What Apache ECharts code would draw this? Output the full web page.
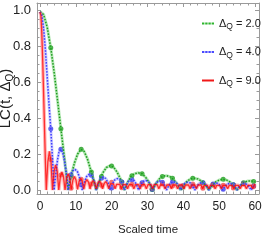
<!DOCTYPE html>
<html><head><meta charset="utf-8">
<script src="https://cdn.jsdelivr.net/npm/echarts@6/dist/echarts.min.js"></script>
<style>html,body{margin:0;padding:0;background:#fff}#c{width:262px;height:240px}</style>
</head><body><div id="c"></div>
<script>
// ---- data (t = scaled time, value = LC) ----
const seriesNames = ['2.0', '4.0', '9.0'];
const xTickLabels = [0, 10, 20, 30, 40, 50, 60];
const yTickLabels = [0, 0.2, 0.4, 0.6, 0.8, 1.0];

const green = [[0,0.99],[1,0.975],[2,0.905],[3,0.79],[4,0.645],[5,0.48],[5.83,0.34],[6.5,0.23],[7.2,0.11],[7.85,0],
[8.7,0.08],[9.6,0.15],[10.5,0.2],[11.4,0.226],[12.3,0.215],[13.2,0.175],[14.1,0.115],[14.9,0.06],[15.7,0],
[16.6,0.05],[17.5,0.095],[18.5,0.125],[19.5,0.135],[20.5,0.128],[21.5,0.1],[22.5,0.06],[23.55,0],
[24.4,0.04],[25.3,0.075],[26.3,0.09],[27.4,0.096],[28.5,0.09],[29.5,0.07],[30.5,0.04],[31.4,0],
[32.3,0.035],[33.3,0.062],[34.3,0.077],[35.3,0.08],[36.4,0.073],[37.4,0.055],[38.4,0.03],[39.25,0],
[40.2,0.03],[41.1,0.05],[42.1,0.062],[43,0.066],[44,0.062],[45,0.05],[46.1,0.03],[47.1,0],
[48,0.025],[49,0.045],[50,0.056],[51,0.06],[52,0.056],[53,0.045],[54,0.025],[54.95,0],
[55.9,0.025],[56.9,0.042],[57.9,0.05],[59,0.05],[60,0.046]];

const blue = [[0,0.99],[0.5,0.97],[1,0.9],[1.5,0.78],[2,0.63],[2.5,0.48],[3,0.34],[3.5,0.17],[3.93,0],
[4.4,0.09],[4.9,0.17],[5.3,0.21],[5.8,0.226],[6.3,0.21],[6.8,0.165],[7.3,0.1],[7.85,0],
[8.4,0.07],[9.0,0.105],[9.7,0.115],[10.4,0.105],[11.1,0.065],[11.78,0],
[12.4,0.045],[13.0,0.075],[13.7,0.088],[14.4,0.08],[15.1,0.05],[15.7,0],
[16.3,0.037],[16.9,0.062],[17.6,0.072],[18.3,0.065],[19,0.04],[19.6,0],
[20.2,0.033],[20.8,0.055],[21.55,0.064],[22.3,0.057],[23,0.035],[23.55,0],
[24.15,0.03],[24.75,0.05],[25.5,0.058],[26.25,0.052],[26.9,0.032],[27.5,0],
[28.1,0.028],[28.7,0.047],[29.45,0.054],[30.2,0.048],[30.8,0.03],[31.4,0],
[32,0.026],[32.6,0.043],[33.35,0.05],[34.1,0.044],[34.7,0.027],[35.3,0],
[35.9,0.024],[36.5,0.04],[37.25,0.047],[38,0.042],[38.65,0.025],[39.25,0],
[39.85,0.023],[40.45,0.038],[41.2,0.044],[41.95,0.039],[42.6,0.024],[43.2,0],
[43.8,0.022],[44.4,0.036],[45.15,0.042],[45.9,0.037],[46.5,0.022],[47.1,0],
[47.7,0.021],[48.3,0.034],[49.05,0.04],[49.8,0.035],[50.4,0.021],[51,0],
[51.6,0.02],[52.2,0.032],[52.95,0.038],[53.7,0.033],[54.35,0.02],[54.95,0],
[55.55,0.019],[56.15,0.031],[56.9,0.036],[57.65,0.032],[58.3,0.019],[58.9,0],
[59.5,0.02],[60,0.03]];

const red = [[0,0.99],[0.25,0.97],[0.5,0.87],[0.75,0.72],[1,0.54],[1.25,0.35],[1.5,0.16],[1.745,0],
[2.2,0.16],[2.62,0.215],[3.05,0.16],[3.49,0],
[3.94,0.105],[4.36,0.14],[4.79,0.105],[5.235,0],
[5.69,0.075],[6.11,0.1],[6.54,0.075],[6.98,0],
[7.43,0.068],[7.85,0.09],[8.28,0.068],[8.725,0.003],
[9.18,0.056],[9.6,0.075],[10.03,0.056],[10.47,0.004],
[10.92,0.049],[11.34,0.065],[11.77,0.049],[12.215,0.005],
[12.67,0.044],[13.09,0.058],[13.52,0.044],[13.96,0.006],
[14.41,0.04],[14.83,0.053],[15.26,0.04],[15.705,0.007],
[16.16,0.038],[16.58,0.05],[17.01,0.038],[17.45,0.007],
[17.9,0.035],[18.32,0.047],[18.75,0.035],[19.195,0.007],
[19.65,0.034],[20.07,0.045],[20.5,0.034],[20.94,0.007],
[21.39,0.032],[21.81,0.043],[22.24,0.032],[22.685,0.007],
[23.14,0.03],[23.56,0.04],[23.99,0.03],[24.43,0.007],
[24.88,0.03],[25.3,0.04],[25.73,0.03],[26.175,0.007],
[26.63,0.03],[27.05,0.04],[27.48,0.03],[27.92,0.007],
[28.37,0.03],[28.79,0.04],[29.22,0.03],[29.665,0.007],
[30.12,0.03],[30.54,0.04],[30.97,0.03],[31.41,0.007],
[31.86,0.03],[32.28,0.04],[32.71,0.03],[33.155,0.007],
[33.61,0.028],[34.03,0.037],[34.46,0.028],[34.9,0.007],
[35.35,0.028],[35.77,0.037],[36.2,0.028],[36.645,0.007],
[37.1,0.028],[37.52,0.037],[37.95,0.028],[38.39,0.007],
[38.84,0.028],[39.26,0.037],[39.69,0.028],[40.135,0.007],
[40.59,0.028],[41.01,0.037],[41.44,0.028],[41.88,0.007],
[42.33,0.028],[42.75,0.037],[43.18,0.028],[43.625,0.007],
[44.08,0.028],[44.5,0.037],[44.93,0.028],[45.37,0.007],
[45.82,0.026],[46.24,0.034],[46.67,0.026],[47.115,0.007],
[47.57,0.026],[47.99,0.034],[48.42,0.026],[48.86,0.007],
[49.31,0.026],[49.73,0.034],[50.16,0.026],[50.605,0.007],
[51.06,0.026],[51.48,0.034],[51.91,0.026],[52.35,0.007],
[52.8,0.026],[53.22,0.034],[53.65,0.026],[54.095,0.007],
[54.55,0.026],[54.97,0.034],[55.4,0.026],[55.84,0.007],
[56.29,0.026],[56.71,0.034],[57.14,0.026],[57.585,0.007],
[58.04,0.026],[58.46,0.034],[58.89,0.026],[59.33,0.007],
[59.78,0.026],[60,0.034]];

const markerT = [3.0,5.83,8.66,11.49,14.32,17.15,19.98,22.81,25.64,28.47,31.3,34.13,36.96,39.79,42.62,45.45,48.28,51.11,53.94,56.77,59.6];
const greenMarks = [0.79,0.34,0.077,0.226,0.10,0.075,0.133,0.045,0.08,0.09,0.003,0.075,0.066,0.015,0.065,0.04,0.03,0.06,0.03,0.04,0.047];
const blueMarks = [0.34,0.226,0.085,0.03,0.082,0.066,0.012,0.045,0.057,0.04,0.005,0.043,0.044,0.022,0.023,0.04,0.034,0.004,0.03,0.036,0.022];
const redMarks = [0.17,0.083,0.01,0.06,0.033,0.026,0.043,0.013,0.032,0.032,0.01,0.035,0.022,0.023,0.034,0.01,0.028,0.027,0.012,0.033,0.02];

const xMinorTicks = [2,4,6,8,12,14,16,18,22,24,26,28,32,34,36,38,42,44,46,48,52,54,56,58];
const yMinorTicks = [0.05,0.1,0.15,0.25,0.3,0.35,0.45,0.5,0.55,0.65,0.7,0.75,0.85,0.9,0.95];

// ---- chart ----
const XMIN = -0.84, XMAX = 61.1, YMIN = -0.022, YMAX = 1.039;
const FRAME = '#9a9a9a';
const FONT = '"Liberation Sans", Arial, sans-serif';

function xa(pos, vals, len, line, labels, extra) {
  return Object.assign({
    type: 'value', position: pos, min: XMIN, max: XMAX,
    axisLine: {show: line, onZero: false, lineStyle: {color: FRAME, width: 1}},
    axisTick: {show: true, inside: true, length: len, customValues: vals, lineStyle: {color: FRAME, width: 1}},
    axisLabel: {show: labels, customValues: vals, margin: 7, color: '#222', fontSize: 12, fontFamily: FONT},
    splitLine: {show: false}
  }, extra || {});
}
function ya(pos, vals, len, line, labels, extra) {
  return Object.assign({
    type: 'value', position: pos, min: YMIN, max: YMAX,
    axisLine: {show: line, onZero: false, lineStyle: {color: FRAME, width: 1}},
    axisTick: {show: true, inside: true, length: len, customValues: vals, lineStyle: {color: FRAME, width: 1}},
    axisLabel: {show: labels, customValues: vals, margin: 6, color: '#222', fontSize: 13, fontFamily: FONT,
      formatter: v => Number(v).toFixed(1)},
    splitLine: {show: false}
  }, extra || {});
}

const legendIcons = {
  '2.0': 'path://M0,0h2.4v2h-2.4z M3.2,0h2.4v2h-2.4z M6.4,0h2.4v2h-2.4z M9.6,0h2.4v2h-2.4z',
  '4.0': 'path://M0,0h2.4v2h-2.4z M3.2,0h2.4v2h-2.4z M6.4,0h2.4v2h-2.4z M9.6,0h2.4v2h-2.4z',
  '9.0': 'path://M0,0h12v2h-12z'
};

const option = {
  animation: false,
  backgroundColor: '#fff',
  grid: {left: 37, right: 3, top: 3, bottom: 46, containLabel: false, outerBoundsMode: 'none'},
  xAxis: [
    xa('bottom', xTickLabels, 4, true, true, {
      name: 'Scaled time', nameLocation: 'middle', nameGap: 30, nameMoveOverlap: false,
      nameTextStyle: {color: '#222', fontSize: 11.5, fontFamily: FONT}
    }),
    xa('bottom', xMinorTicks, 2.5, false, false),
    xa('top', xTickLabels, 4, true, false),
    xa('top', xMinorTicks, 2.5, false, false)
  ],
  yAxis: [
    ya('left', yTickLabels, 4, true, true, {
      name: '{m|LC(t, Δ}{s|Q}{m|)}', nameLocation: 'middle', nameGap: 22, nameRotate: 90, nameMoveOverlap: false,
      nameTextStyle: {rich: {
        m: {fontSize: 15, color: '#222', fontFamily: FONT, lineHeight: 18},
        s: {fontSize: 10, color: '#222', fontFamily: FONT, verticalAlign: 'bottom', lineHeight: 10}
      }}
    }),
    ya('left', yMinorTicks, 2.5, false, false),
    ya('right', yTickLabels, 4, true, false),
    ya('right', yMinorTicks, 2.5, false, false)
  ],
  legend: {
    orient: 'vertical', left: 197, top: 13, itemWidth: 12, itemHeight: 2, itemGap: 15,
    data: seriesNames.map(n => ({name: n, icon: legendIcons[n]})),
    formatter: n => '{m|Δ}{s|Q}{m| = ' + n + '}',
    textStyle: {rich: {
      m: {fontSize: 11, color: '#222', fontFamily: FONT, lineHeight: 16},
      s: {fontSize: 8.5, color: '#222', fontFamily: FONT, verticalAlign: 'bottom', lineHeight: 9}
    }}
  },
  series: [
    {type: 'line', name: 'gh', data: green, symbol: 'none', lineStyle: {color: 'rgba(90,205,90,0.45)', width: 3}, itemStyle: {color: 'rgba(90,205,90,0.45)'}, silent: true},
    {type: 'line', name: 'bh', data: blue, symbol: 'none', lineStyle: {color: 'rgba(130,130,255,0.4)', width: 3}, itemStyle: {color: 'rgba(130,130,255,0.4)'}, silent: true},
    {type: 'line', name: 'rh', data: red, symbol: 'none', lineStyle: {color: 'rgba(255,90,90,0.45)', width: 3.5}, itemStyle: {color: 'rgba(255,90,90,0.45)'}, silent: true},
    {type: 'line', name: seriesNames[0], data: green, symbol: 'none', lineStyle: {color: '#1e9b1e', width: 1.5, type: [1.5, 1.5]}, itemStyle: {color: '#2eb52e'}},
    {type: 'line', name: seriesNames[1], data: blue, symbol: 'none', lineStyle: {color: '#3b3bff', width: 1.5, type: [1.5, 1.5]}, itemStyle: {color: '#4a4aff'}},
    {type: 'line', name: seriesNames[2], data: red, symbol: 'none', lineStyle: {color: 'rgba(255,0,0,0.75)', width: 1.3}, itemStyle: {color: '#f01818'}},
    {type: 'scatter', name: 'gm', data: markerT.map((t, i) => [t, greenMarks[i]]), symbolSize: 5, itemStyle: {color: '#1a9a1a'}},
    {type: 'scatter', name: 'bm', data: markerT.map((t, i) => [t, blueMarks[i]]), symbolSize: 5, itemStyle: {color: '#3434e8'}},
    {type: 'scatter', name: 'rm', data: markerT.map((t, i) => [t, redMarks[i]]), symbolSize: 5, itemStyle: {color: 'rgba(235,20,20,0.75)'}}
  ]
};
const chart = echarts.init(document.getElementById('c'), null, {renderer: 'canvas'});
chart.setOption(option);
</script>
</body></html>
